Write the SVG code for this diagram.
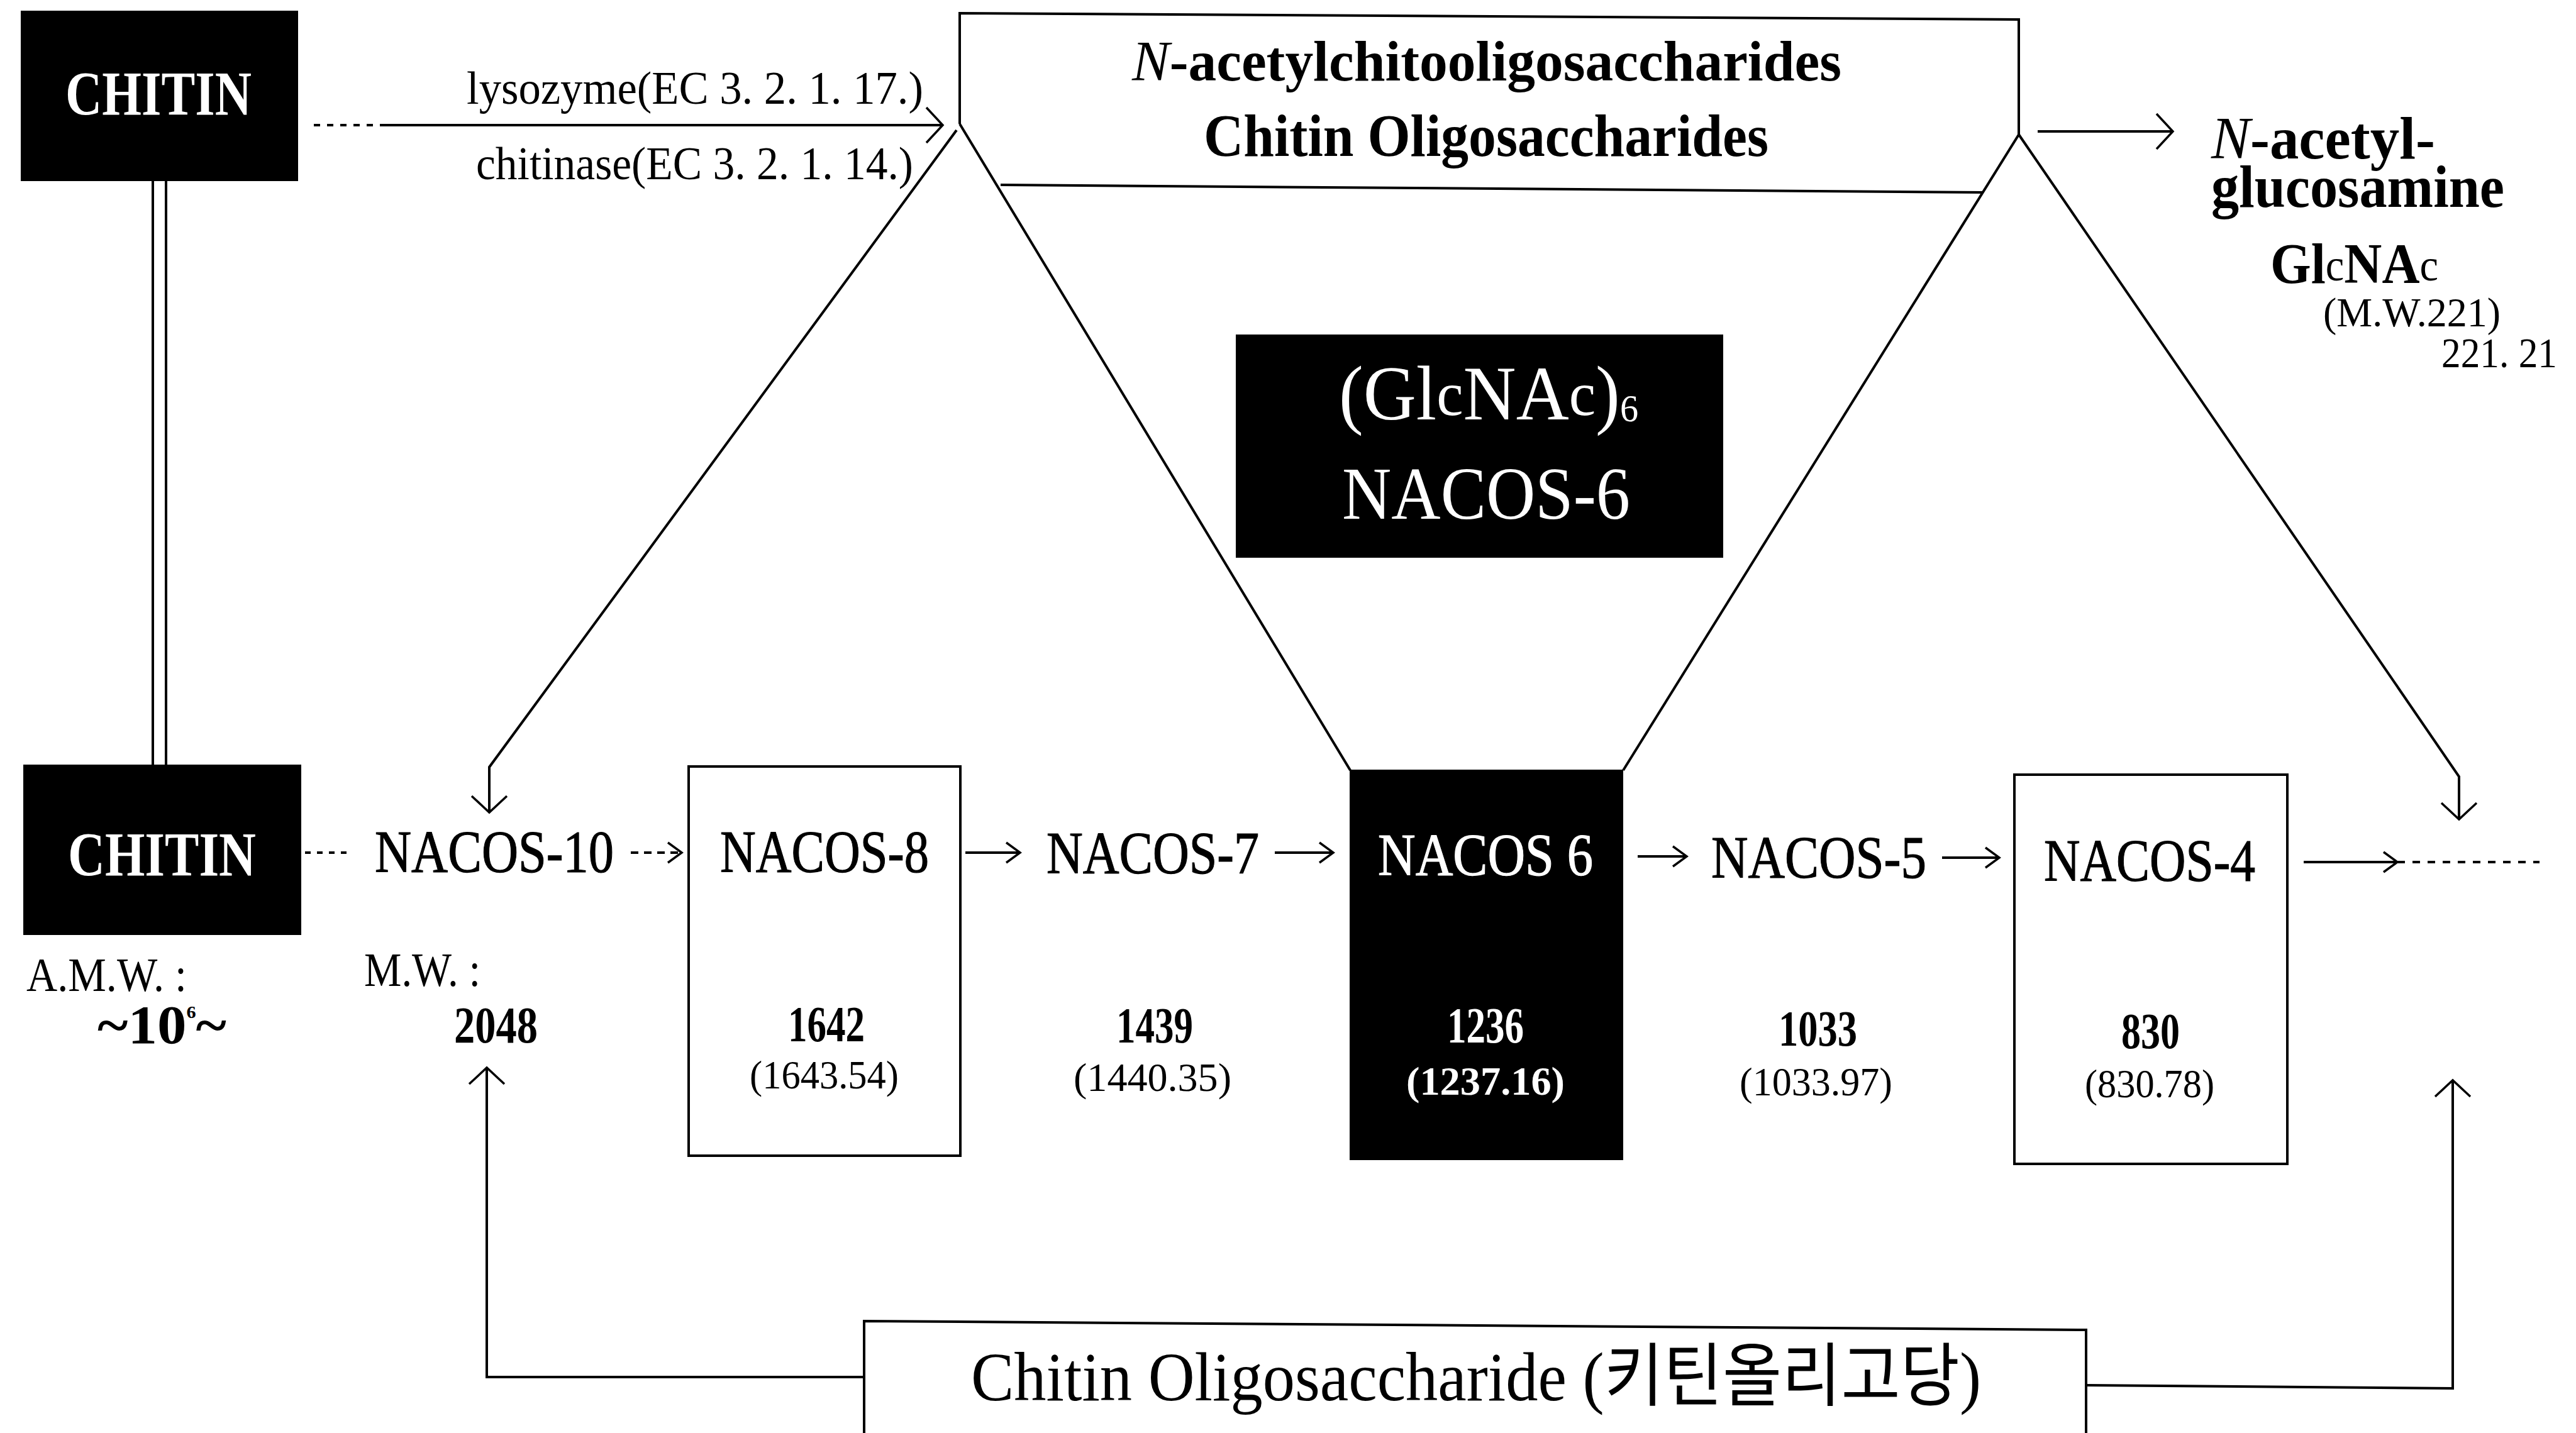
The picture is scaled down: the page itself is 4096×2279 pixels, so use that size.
<svg xmlns="http://www.w3.org/2000/svg" width="4096" height="2279" viewBox="0 0 4096 2279">
<style>
.ln{fill:none;stroke:#000;stroke-width:4}
.dot{fill:none;stroke:#000;stroke-width:4;stroke-dasharray:10 11}
.box{fill:#fff;stroke:#000;stroke-width:4}
.blk{fill:#000;stroke:#000;stroke-width:2}
text{font-family:'Liberation Serif','Noto Serif',serif;fill:#000}
.w{fill:#fff}
.b{font-weight:bold}
.n{font-weight:normal}
.it{font-style:italic;font-weight:normal}
.m{stroke:#000;stroke-width:1.2}
.mw{stroke:#fff;stroke-width:1.2}
.kr{font-family:'Liberation Serif','Noto Sans CJK KR',serif}
</style>
<defs>
<marker id="ahL" viewBox="-32 -30 36 60" refX="0" refY="0" markerWidth="36" markerHeight="60" markerUnits="userSpaceOnUse" orient="auto"><path d="M-26,-28 L0,0 L-26,28" fill="none" stroke="#000" stroke-width="3.5"/></marker>
<marker id="ahS" viewBox="-26 -20 30 40" refX="0" refY="0" markerWidth="30" markerHeight="40" markerUnits="userSpaceOnUse" orient="auto"><path d="M-22,-16 L0,0 L-22,16" fill="none" stroke="#000" stroke-width="3.5"/></marker>
</defs>
<rect width="4096" height="2279" fill="#fff"/>

<g id="connectors">
<line class="ln" x1="243" y1="287" x2="243" y2="1217"/>
<line class="ln" x1="264" y1="287" x2="264" y2="1217"/>
<line class="dot" x1="499" y1="199" x2="604" y2="199"/>
<line class="ln" x1="604" y1="199" x2="1499" y2="199" marker-end="url(#ahL)"/>
<line class="ln" x1="3240" y1="209" x2="3455" y2="209" marker-end="url(#ahL)"/>
<line class="ln" x1="1526" y1="197" x2="2147" y2="1225"/>
<line class="ln" x1="3210" y1="214" x2="2581" y2="1225"/>
<polyline class="ln" points="1521,207 778,1220 778,1292" marker-end="url(#ahL)"/>
<polyline class="ln" points="3210,214 3910,1235 3910,1303" marker-end="url(#ahL)"/>
<line class="dot" x1="485" y1="1356" x2="556" y2="1356" style="stroke-dasharray:9 10"/>
<line class="dot" x1="1003" y1="1356" x2="1084" y2="1356" style="stroke-dasharray:12 9" marker-end="url(#ahS)"/>
<line class="ln" x1="1535" y1="1356" x2="1622" y2="1356" marker-end="url(#ahS)"/>
<line class="ln" x1="2027" y1="1356" x2="2120" y2="1356" marker-end="url(#ahS)"/>
<line class="ln" x1="2604" y1="1362" x2="2682" y2="1362" marker-end="url(#ahS)"/>
<line class="ln" x1="3088" y1="1364" x2="3179" y2="1364" marker-end="url(#ahS)"/>
<line class="ln" x1="3663" y1="1371" x2="3812" y2="1371" marker-end="url(#ahS)"/>
<line class="dot" x1="3812" y1="1371" x2="4038" y2="1371" style="stroke-dasharray:12 12"/>
<polyline class="ln" points="1374,2190 774,2190 774,1698" marker-end="url(#ahL)"/>
<polyline class="ln" points="3317,2203 3900,2208 3900,1718" marker-end="url(#ahL)"/>
</g>

<g id="chitin-top">
<rect class="blk" x="34" y="18" width="439" height="269"/>
<text class="w b" x="104" y="182" font-size="100" textLength="296" lengthAdjust="spacingAndGlyphs">CHITIN</text>
</g>

<g id="enzymes">
<text x="742" y="165" font-size="75" textLength="726" lengthAdjust="spacingAndGlyphs">lysozyme(EC 3. 2. 1. 17.)</text>
<text x="757" y="285" font-size="75" textLength="695" lengthAdjust="spacingAndGlyphs">chitinase(EC 3. 2. 1. 14.)</text>
</g>

<g id="oligo-box">
<path class="ln" d="M1526,197 L1526,21 L3210,31 L3210,214"/>
<line class="ln" x1="1591" y1="294" x2="3153" y2="306"/>
<text class="b" x="1800" y="128" font-size="90" textLength="1128" lengthAdjust="spacingAndGlyphs"><tspan class="it">N</tspan>-acetylchitooligosaccharides</text>
<text class="b" x="1914" y="248" font-size="96" textLength="898" lengthAdjust="spacingAndGlyphs">Chitin Oligosaccharides</text>
</g>

<g id="glucosamine">
<text class="b" font-size="95"><tspan x="3516" y="252" textLength="356" lengthAdjust="spacingAndGlyphs"><tspan class="it">N</tspan>-acetyl-</tspan><tspan x="3516" y="329" textLength="466" lengthAdjust="spacingAndGlyphs">glucosamine</tspan></text>
<text class="b" x="3610" y="450" font-size="90" textLength="267" lengthAdjust="spacingAndGlyphs">Gl<tspan class="n" font-size="72" dy="-4">c</tspan><tspan dy="4">NA</tspan><tspan class="n" font-size="72" dy="-4">c</tspan></text>
<text font-size="66"><tspan x="3694" y="519" textLength="282" lengthAdjust="spacingAndGlyphs">(M.W.221)</tspan><tspan x="3882" y="584" font-size="67" textLength="184" lengthAdjust="spacingAndGlyphs">221. 21</tspan></text>
</g>

<g id="glcnac6">
<rect class="blk" x="1966" y="533" width="773" height="353"/>
<text class="w" x="2129" y="667" font-size="122" textLength="476" lengthAdjust="spacingAndGlyphs">(Gl<tspan font-size="100" dy="-7">c</tspan><tspan dy="7">NA</tspan><tspan font-size="100" dy="-7">c</tspan><tspan dy="7">)</tspan><tspan font-size="61" dy="3">6</tspan></text>
<text class="w" x="2134" y="825" font-size="118" textLength="458" lengthAdjust="spacingAndGlyphs">NACOS-6</text>
</g>

<g id="chitin-bottom">
<rect class="blk" x="38" y="1217" width="440" height="269"/>
<text class="w b" x="108" y="1392" font-size="100" textLength="299" lengthAdjust="spacingAndGlyphs">CHITIN</text>
<text x="42" y="1576" font-size="76" textLength="255" lengthAdjust="spacingAndGlyphs">A.M.W. :</text>
<text class="b" x="155" y="1659" font-size="86" textLength="205" lengthAdjust="spacingAndGlyphs">~10<tspan font-size="28" dy="-40">6</tspan><tspan dy="40">~</tspan></text>
</g>

<g id="nacos-10">
<text class="m" x="596" y="1387" font-size="95" textLength="380" lengthAdjust="spacingAndGlyphs">NACOS-10</text>
<text x="579" y="1568" font-size="76" textLength="185" lengthAdjust="spacingAndGlyphs">M.W. :</text>
<text class="b" x="722" y="1658" font-size="82" textLength="133" lengthAdjust="spacingAndGlyphs">2048</text>
</g>

<g id="nacos-8">
<rect class="box" x="1095" y="1219" width="432" height="619"/>
<text class="m" x="1145" y="1387" font-size="95" textLength="332" lengthAdjust="spacingAndGlyphs">NACOS-8</text>
<text class="b" x="1253" y="1656" font-size="80" textLength="122" lengthAdjust="spacingAndGlyphs">1642</text>
<text x="1192" y="1731" font-size="64" textLength="237" lengthAdjust="spacingAndGlyphs">(1643.54)</text>
</g>

<g id="nacos-7">
<text class="m" x="1664" y="1389" font-size="95" textLength="338" lengthAdjust="spacingAndGlyphs">NACOS-7</text>
<text class="b" x="1775" y="1658" font-size="80" textLength="122" lengthAdjust="spacingAndGlyphs">1439</text>
<text x="1707" y="1735" font-size="64" textLength="251" lengthAdjust="spacingAndGlyphs">(1440.35)</text>
</g>

<g id="nacos-6">
<rect class="blk" x="2147" y="1225" width="433" height="619"/>
<text class="w mw" x="2191" y="1392" font-size="95" textLength="342" lengthAdjust="spacingAndGlyphs">NACOS 6</text>
<text class="w b" x="2301" y="1658" font-size="80" textLength="122" lengthAdjust="spacingAndGlyphs">1236</text>
<text class="w b" x="2236" y="1741" font-size="64" textLength="252" lengthAdjust="spacingAndGlyphs">(1237.16)</text>
</g>

<g id="nacos-5">
<text class="m" x="2721" y="1396" font-size="95" textLength="342" lengthAdjust="spacingAndGlyphs">NACOS-5</text>
<text class="b" x="2828" y="1663" font-size="80" textLength="125" lengthAdjust="spacingAndGlyphs">1033</text>
<text x="2766" y="1742" font-size="64" textLength="243" lengthAdjust="spacingAndGlyphs">(1033.97)</text>
</g>

<g id="nacos-4">
<rect class="box" x="3203" y="1232" width="434" height="619"/>
<text class="m" x="3250" y="1401" font-size="95" textLength="336" lengthAdjust="spacingAndGlyphs">NACOS-4</text>
<text class="b" x="3373" y="1667" font-size="80" textLength="93" lengthAdjust="spacingAndGlyphs">830</text>
<text x="3315" y="1745" font-size="64" textLength="206" lengthAdjust="spacingAndGlyphs">(830.78)</text>
</g>

<g id="chitin-oligosaccharide">
<path class="box" d="M1374,2101 L3317,2115 L3317,2300 L1374,2300 Z"/>
<text class="kr" x="1544" y="2227" font-size="110" textLength="1606" lengthAdjust="spacingAndGlyphs">Chitin Oligosaccharide (키틴올리고당)</text>
</g>
</svg>
